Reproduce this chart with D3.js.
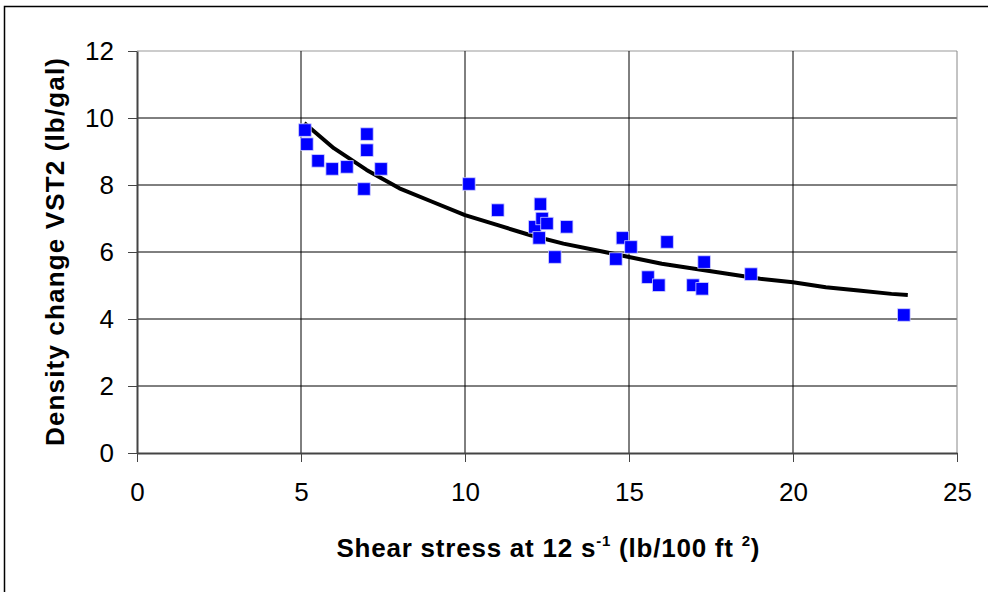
<!DOCTYPE html>
<html>
<head>
  <meta charset="utf-8">
  <title>Density change vs shear stress</title>
  <script src="https://d3js.org/d3.v7.min.js"></script>
  <style>
    body { margin: 0; background: #fff; }
    svg { display: block; font-family: "Liberation Sans", Arial, sans-serif; }
  </style>
</head>
<body>
  <div id="chart"></div>
  <script>
    // measured points (shear stress, density change)
    var shearStress = [5.12, 5.18, 5.52, 5.95, 6.4, 7.01, 7.01, 6.92, 7.44,
      10.12, 11.0, 12.3, 12.13, 12.26, 12.35, 12.5, 13.1, 12.74,
      14.8, 15.06, 14.6, 16.16, 15.58, 15.91, 17.29, 16.95, 17.23, 18.72, 23.38];
    var densityChange = [9.64, 9.22, 8.72, 8.48, 8.54, 9.52, 9.04, 7.88, 8.48,
      8.03, 7.25, 7.43, 6.75, 6.42, 7.0, 6.85, 6.75, 5.85,
      6.42, 6.15, 5.79, 6.3, 5.25, 5.01, 5.7, 5.01, 4.9, 5.34, 4.12];

    // trend line
    var trendX = [5.1, 6, 7, 8, 9, 10, 11, 12, 13, 14, 15, 16, 17, 18, 19, 20, 21, 22, 23, 23.5];
    var trendY = [9.85, 9.1, 8.45, 7.9, 7.5, 7.1, 6.8, 6.5, 6.25, 6.05, 5.85, 5.65, 5.5, 5.35, 5.2, 5.1, 4.95, 4.85, 4.75, 4.72];

    var xTicks = [0, 5, 10, 15, 20, 25];
    var yTicks = [0, 2, 4, 6, 8, 10, 12];

    function drawChart() {
      var width = 988, height = 592;
      var left = 137, right = 957, top = 51, bottom = 453;

      var svg = d3.select("#chart").append("svg")
        .attr("width", width)
        .attr("height", height);

      // outer chart border
      svg.append("rect")
        .attr("x", 4.5).attr("y", 6.5)
        .attr("width", 1000).attr("height", 1000)
        .attr("fill", "none")
        .attr("stroke", "#000")
        .attr("stroke-width", 1.5);

      var x = d3.scaleLinear().domain([0, 25]).range([left, right]);
      var y = d3.scaleLinear().domain([0, 12]).range([bottom, top]);

      // gridlines
      svg.append("g").selectAll("line").data(yTicks.slice(1)).enter()
        .append("line")
        .attr("x1", left).attr("x2", right)
        .attr("y1", d => y(d)).attr("y2", d => y(d))
        .attr("stroke", d => d === 12 ? "#999" : "#000")
        .attr("stroke-width", 1);
      svg.append("g").selectAll("line").data(xTicks.slice(1)).enter()
        .append("line")
        .attr("y1", top).attr("y2", bottom)
        .attr("x1", d => x(d)).attr("x2", d => x(d))
        .attr("stroke", d => d === 25 ? "#888" : "#000")
        .attr("stroke-width", 1);

      // axes
      var xAxis = svg.append("g")
        .attr("transform", "translate(0," + bottom + ")")
        .call(d3.axisBottom(x).tickValues(xTicks).tickSize(9).tickPadding(21).tickSizeOuter(0));
      var yAxis = svg.append("g")
        .attr("transform", "translate(" + left + ",0)")
        .call(d3.axisLeft(y).tickValues(yTicks).tickSize(9).tickPadding(14).tickSizeOuter(0));

      [xAxis, yAxis].forEach(function (a) {
        a.select(".domain").attr("stroke", "#444").attr("stroke-width", 2);
        a.selectAll(".tick line").attr("stroke", "#444").attr("stroke-width", 1);
        a.selectAll(".tick text")
          .attr("font-size", 26)
          .attr("font-family", "Liberation Sans, Arial, sans-serif")
          .attr("fill", "#000");
      });

      // trend line
      var trend = trendX.map((d, i) => [d, trendY[i]]);
      svg.append("path")
        .datum(trend)
        .attr("d", d3.line().x(d => x(d[0])).y(d => y(d[1])))
        .attr("fill", "none")
        .attr("stroke", "#000")
        .attr("stroke-width", 4)
        .attr("stroke-linejoin", "round");

      // data squares
      var pts = shearStress.map((d, i) => [d, densityChange[i]]);
      var s = 12.5;
      svg.append("g").selectAll("rect").data(pts).enter()
        .append("rect")
        .attr("x", d => x(d[0]) - s / 2)
        .attr("y", d => y(d[1]) - s / 2)
        .attr("width", s).attr("height", s)
        .attr("fill", "#0000ff")
        .attr("stroke", "#ccccff")
        .attr("stroke-width", 0.8);

      // axis titles
      var xt = svg.append("text")
        .attr("x", 548)
        .attr("y", 557)
        .attr("text-anchor", "middle")
        .attr("font-size", 26)
        .attr("font-weight", "bold")
        .attr("textLength", 423)
        .attr("lengthAdjust", "spacing");
      xt.append("tspan").text("Shear stress at 12 s");
      xt.append("tspan").attr("font-size", 15).attr("dy", -11).text("-1");
      xt.append("tspan").attr("dy", 11).text(" (lb/100 ft ");
      xt.append("tspan").attr("font-size", 15).attr("dy", -11).text("2");
      xt.append("tspan").attr("dy", 11).text(")");

      svg.append("text")
        .attr("transform", "translate(64,252) rotate(-90)")
        .attr("text-anchor", "middle")
        .attr("font-size", 26)
        .attr("font-weight", "bold")
        .attr("textLength", 388)
        .attr("lengthAdjust", "spacing")
        .text("Density change VST2 (lb/gal)");
    }

    drawChart();
  </script>
</body>
</html>
